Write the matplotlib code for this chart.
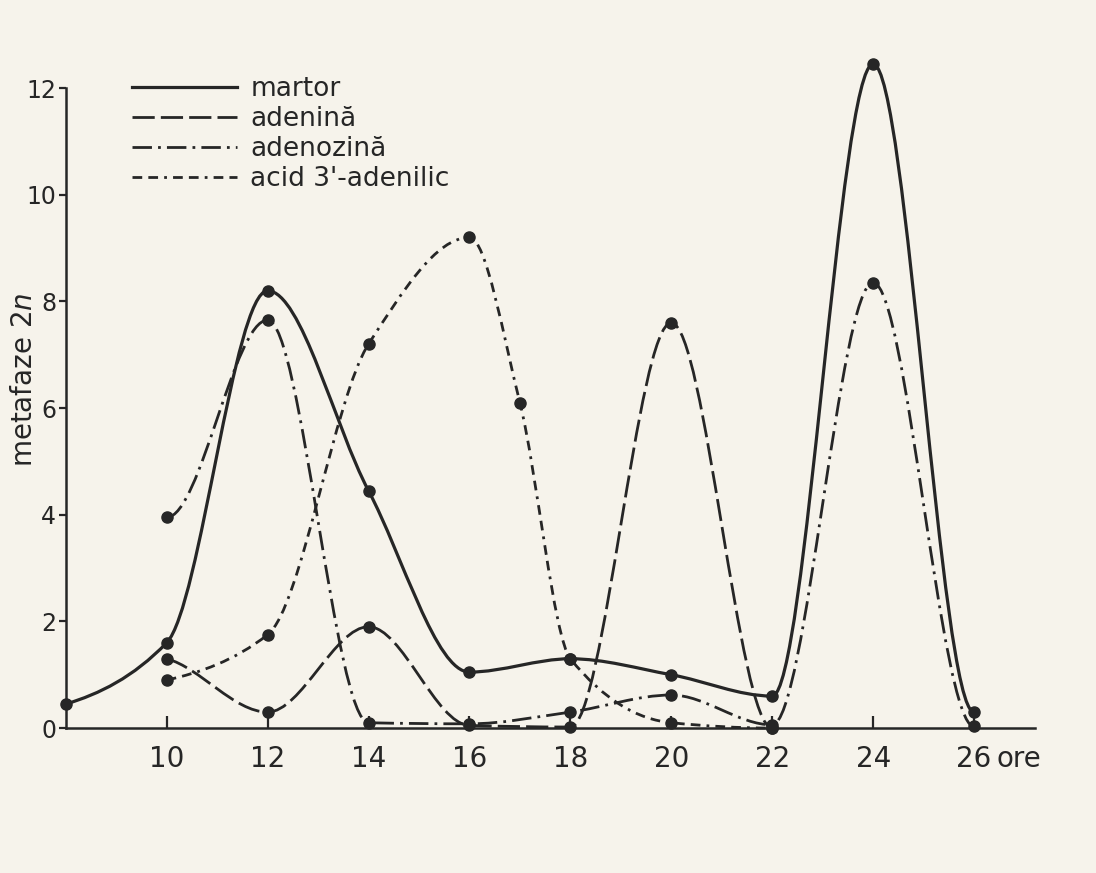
import matplotlib
matplotlib.use('Agg')
import matplotlib.pyplot as plt
import numpy as np
from matplotlib.path import Path
from matplotlib.patches import PathPatch
from matplotlib.lines import Line2D

# ore / metafaze 2n
martor_x = [8, 10, 12, 14, 16, 18, 20, 22, 24, 26]
martor_y = [0.45, 1.6, 8.2, 4.45, 1.05, 1.3, 1.0, 0.6, 12.45, 0.3]

adenina_x = [10, 12, 14, 16, 18, 20, 22]
adenina_y = [1.3, 0.3, 1.9, 0.05, 0.02, 7.6, 0.0]

adenozina_x = [10, 12, 14, 16, 18, 20, 22, 24, 26]
adenozina_y = [3.95, 7.65, 0.1, 0.08, 0.3, 0.62, 0.06, 8.35, 0.03]

acid_x = [10, 12, 14, 16, 17, 18, 20, 22]
acid_y = [0.9, 1.75, 7.2, 9.2, 6.1, 1.3, 0.1, 0.0]

labels = ['martor', 'adenină', 'adenozină', "acid 3'-adenilic"]
styles = ['-', (0, (8, 2.2)), (0, (7, 2.2, 1, 2.2)), (0, (3.5, 2.2, 3.5, 2.2, 1, 2.2))]
x_ticks = [10, 12, 14, 16, 18, 20, 22, 24, 26]
y_ticks = [0, 2, 4, 6, 8, 10, 12]

INK = '#262626'
PAPER = '#f6f3eb'


def smooth_path(x, y):
    # curba trasata ca Bezier (tangente monotone), doar prin punctele citite
    x = np.asarray(x, float)
    y = np.asarray(y, float)
    h = np.diff(x)
    d = np.diff(y) / h
    m = np.zeros(len(x))
    for k in range(1, len(x) - 1):
        if d[k - 1] * d[k] > 0:
            w1 = 2 * h[k] + h[k - 1]
            w2 = h[k] + 2 * h[k - 1]
            m[k] = (w1 + w2) / (w1 / d[k - 1] + w2 / d[k])
    m[0] = 0.5 * d[0] if abs(d[0]) < 1 else 0.0
    verts = [(x[0], y[0])]
    codes = [Path.MOVETO]
    for k in range(len(x) - 1):
        verts += [(x[k] + h[k] / 3, y[k] + m[k] * h[k] / 3),
                  (x[k + 1] - h[k] / 3, y[k + 1] - m[k + 1] * h[k] / 3),
                  (x[k + 1], y[k + 1])]
        codes += [Path.CURVE4] * 3
    return Path(verts, codes)


fig = plt.figure(figsize=(10.96, 8.73), dpi=100, facecolor=PAPER)
ax = fig.add_axes([0.060, 0.166, 0.884, 0.782])
ax.set_facecolor(PAPER)

series = [(martor_x, martor_y), (adenina_x, adenina_y),
          (adenozina_x, adenozina_y), (acid_x, acid_y)]
handles = []
for (sx, sy), lab, ls in zip(series, labels, styles):
    lw = 2.3 if ls == '-' else 2.0
    patch = PathPatch(smooth_path(sx, sy), facecolor='none', edgecolor=INK,
                      lw=lw, linestyle=ls, capstyle='butt', clip_on=False)
    ax.add_patch(patch)
    ax.plot(sx, sy, 'o', color=INK, ms=8, clip_on=False, zorder=4)
    handles.append(Line2D([], [], color=INK, lw=lw, linestyle=ls, label=lab))

ax.set_xlim(8, 27.2)
ax.set_ylim(0, 12.8)
for s in ['top', 'right']:
    ax.spines[s].set_visible(False)
for s in ['left', 'bottom']:
    ax.spines[s].set_linewidth(1.8)
    ax.spines[s].set_color(INK)
ax.spines['left'].set_bounds(0, 12)

ax.set_xticks(x_ticks)
ax.set_xticklabels([str(t) for t in x_ticks])
ax.set_yticks(y_ticks)
ax.tick_params(axis='x', direction='in', length=9, width=1.6, labelsize=20,
               pad=12, colors=INK)
ax.tick_params(axis='y', direction='out', length=5, width=1.6, labelsize=17,
               pad=2, colors=INK)
ax.annotate('ore', xy=(26, 0), xycoords='data', xytext=(16, -12),
            textcoords='offset points', ha='left', va='top', fontsize=20,
            color=INK, annotation_clip=False)

ax.set_ylabel('metafaze 2$\\mathit{n}$', fontsize=20, color=INK)
ax.yaxis.set_label_coords(-0.029, 0.51)

ax.legend(handles=handles, loc='upper left', bbox_to_anchor=(0.068, 0.955),
          frameon=False, fontsize=19, handlelength=4.0, handletextpad=0.5,
          labelspacing=0.15, borderpad=0, borderaxespad=0, labelcolor=INK)

fig.savefig('out.png', dpi=100, facecolor=PAPER)
